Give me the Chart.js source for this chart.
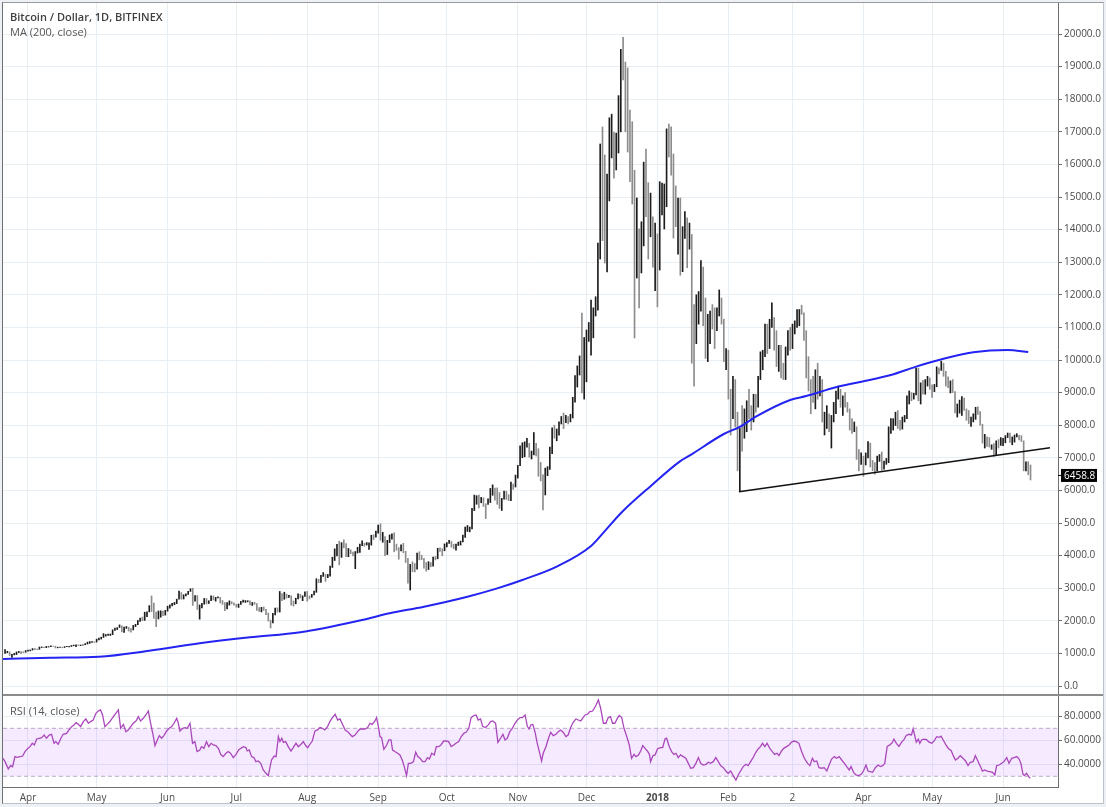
<!DOCTYPE html>
<html lang="en">
<head>
<meta charset="utf-8">
<title>Bitcoin / Dollar, 1D, BITFINEX</title>
<script src="https://cdn.jsdelivr.net/npm/chart.js@4.4.1/dist/chart.umd.min.js"></script>
<style>
  html, body { margin: 0; padding: 0; }
  body { width: 1106px; height: 807px; background: #edf1f5; position: relative; overflow: hidden; font-family: "Open Sans", sans-serif; }
  #card { position: absolute; left: 2px; top: 2px; width: 1100px; height: 800px; background: #fff; border: 1px solid #bcc3cb; border-left-color: #6f6f6f; border-top-color: #9a9a9a; }
  .pane { position: absolute; left: 0; width: 1106px; }
  #pricePane { top: 0; height: 695px; }
  #rsiPane { top: 695px; height: 112px; }
  #divider { position: absolute; left: 3px; top: 694px; width: 1100px; height: 2px; background: #8c8c8c; }
  .legend { position: absolute; left: 10px; font-size: 11px; line-height: 15px; color: #555; white-space: nowrap; }
  .legend.main { font-weight: 600; color: #3f3f3f; }
</style>
</head>
<body>
<div id="card"></div>
<div class="pane" id="pricePane"><canvas id="priceChart"></canvas></div>
<div class="pane" id="rsiPane"><canvas id="rsiChart"></canvas></div>
<div id="divider"></div>
<div class="legend main" style="top:9px">Bitcoin / Dollar, 1D, BITFINEX</div>
<div class="legend" style="top:24px">MA (200, close)</div>
<div class="legend" style="top:703px">RSI (14, close)</div>

<script>
// day 0 = 1 Apr 2017, first bar = 22 Mar 2017
const firstDay = -10;
const xMin = -10.9, xMax = 450;

const monthDays = [0, 30, 61, 91, 122, 153, 183, 214, 244, 275, 306, 334, 365, 395, 426];
const monthLabels = ['Apr', 'May', 'Jun', 'Jul', 'Aug', 'Sep', 'Oct', 'Nov', 'Dec', '2018', 'Feb', '2', 'Apr', 'May', 'Jun'];

const priceTicks = [0, 1000, 2000, 3000, 4000, 5000, 6000, 7000, 8000, 9000, 10000,
  11000, 12000, 13000, 14000, 15000, 16000, 17000, 18000, 19000, 20000];
const priceMin = -276, priceMax = 20951;

const rsiTicks = [40, 60, 80];
const rsiBands = [70, 30];
const rsiMin = 21.08, rsiMax = 97.75;

// daily highs
const highs = [
  1120, 1065, 1045, 975, 1000, 1046, 1060, 1056, 1051, 1087,
  // Apr 2017
  1099, 1106, 1149, 1150, 1134, 1196, 1198, 1193, 1214, 1210, 1229, 1228, 1221, 1190, 1192,
  1194, 1207, 1217, 1216, 1245, 1255, 1265, 1262, 1257, 1266, 1300, 1346, 1363, 1360, 1357,
  // May
  1436, 1470, 1498, 1607, 1579, 1590, 1596, 1723, 1777, 1790, 1874, 1847, 1810, 1825, 1802, 1758,
  1857, 1894, 2010, 2086, 2115, 2263, 2276, 2466, 2763, 2540, 2266, 2300, 2306, 2302, 2322,
  // Jun
  2448, 2488, 2539, 2564, 2663, 2909, 2867, 2799, 2830, 2905, 2985, 2999, 2775, 2776, 2486,
  2534, 2685, 2686, 2615, 2765, 2762, 2718, 2736, 2719, 2622, 2559, 2557, 2612, 2588, 2552,
  // Jul
  2507, 2515, 2595, 2639, 2621, 2616, 2609, 2562, 2568, 2530, 2409, 2414, 2425, 2354, 2240, 2021,
  2230, 2387, 2397, 2900, 2833, 2876, 2820, 2778, 2768, 2608, 2693, 2830, 2815, 2767, 2887,
  // Aug
  2900, 2763, 2810, 2910, 3290, 3274, 3395, 3480, 3428, 3424, 3680, 3950, 4208, 4345, 4442, 4397,
  4485, 4372, 4219, 4176, 4110, 4125, 4255, 4352, 4453, 4376, 4400, 4394, 4625, 4640, 4749,
  // Sep
  4936, 4975, 4715, 4580, 4468, 4635, 4670, 4698, 4352, 4245, 4329, 4377, 4131, 3920, 3733,
  3808, 3758, 4080, 4119, 4013, 3918, 3789, 3815, 3788, 3958, 3971, 4225, 4240, 4208, 4359,
  // Oct
  4403, 4470, 4433, 4352, 4355, 4414, 4445, 4626, 4878, 4923, 4877, 5447, 5856, 5838, 5856, 5786,
  5774, 5591, 5745, 6060, 6171, 6075, 6076, 5935, 5754, 5980, 5976, 5868, 6255, 6197, 6470,
  // Nov
  6767, 7367, 7461, 7492, 7601, 7445, 7207, 7776, 7446, 7280, 6857, 6477, 6684, 6729, 7330,
  7920, 8000, 7884, 8101, 8267, 8374, 8302, 8267, 8336, 8856, 9522, 9818, 10125, 11440, 10690,
  // Dec
  10920, 11150, 11840, 11600, 11940, 13590, 16626, 17150, 16290, 15700, 17430, 17540, 16990, 16960, 18110, 19530,
  19900, 19140, 18960, 17670, 17310, 15820, 14970, 14020, 14240, 16070, 16470, 15440, 15120, 14390, 14200,
  // Jan 2018
  13870, 15470, 15430, 15400, 17090, 17240, 17150, 16320, 15340, 14970, 14970, 14090, 14550, 14360, 14200, 13850,
  11700, 12000, 12100, 13050, 12850, 11900, 11400, 11500, 11700, 11600, 11600, 12150, 11900, 11250, 10350,
  // Feb
  10300, 9100, 9500, 9400, 8400, 7900, 8600, 8500, 8750, 9100, 8600, 8950, 8950, 9500,
  10250, 10300, 11100, 11100, 11250, 11750, 11300, 10900, 10450, 10450, 9900, 10400, 10900, 11000,
  // Mar
  11100, 11200, 11550, 11550, 11680, 11450, 10900, 10100, 9400, 9500, 9700, 9900, 9500, 9400, 8400, 8600,
  8350, 8300, 8700, 9050, 9200, 9100, 8900, 9000, 8700, 8500, 8200, 8100, 7950, 7250, 7150,
  // Apr
  7050, 7150, 7500, 7450, 6920, 6850, 7050, 7100, 7180, 6900, 6980, 7950, 8200, 8200, 8400,
  8450, 8150, 8250, 8300, 8900, 9050, 9000, 8980, 9750, 9750, 9300, 9380, 9400, 9500, 9450,
  // May
  9240, 9250, 9790, 9760, 9960, 9900, 9650, 9480, 9360, 9400, 9030, 8650, 8770, 8880, 8830, 8500,
  8450, 8250, 8350, 8550, 8560, 8420, 8030, 7720, 7640, 7620, 7400, 7440, 7520, 7560, 7620,
  // Jun
  7600, 7680, 7760, 7760, 7640, 7700, 7740, 7690, 7680, 7520, 6880, 6880, 6780
];

// daily lows
const lows = [
  1000, 1020, 936, 880, 955, 965, 1026, 995, 1024, 1036,
  1070, 1077, 1101, 1115, 1113, 1125, 1178, 1174, 1177, 1194, 1208, 1214, 1166, 1170, 1180,
  1173, 1180, 1203, 1199, 1213, 1234, 1208, 1240, 1237, 1250, 1265, 1287, 1307, 1336, 1333,
  1348, 1415, 1440, 1488, 1529, 1555, 1548, 1577, 1702, 1730, 1795, 1660, 1644, 1767, 1685, 1653,
  1720, 1822, 1880, 1982, 2005, 2012, 2125, 2274, 2282, 2070, 1820, 2056, 2110, 2154, 2174,
  2295, 2391, 2458, 2495, 2528, 2666, 2663, 2669, 2762, 2808, 2900, 2472, 2600, 2348, 2050,
  2396, 2510, 2518, 2531, 2617, 2641, 2603, 2705, 2548, 2501, 2310, 2368, 2481, 2519, 2480,
  2419, 2410, 2502, 2575, 2564, 2581, 2490, 2471, 2505, 2315, 2286, 2273, 2321, 2191, 1990, 1780,
  1933, 2183, 2264, 2269, 2619, 2660, 2695, 2718, 2480, 2450, 2520, 2670, 2703, 2617, 2746,
  2604, 2669, 2720, 2791, 2874, 3168, 3180, 3361, 3209, 3323, 3372, 3637, 3850, 3989, 3717, 3944,
  4233, 3970, 3966, 4060, 3991, 3600, 4079, 4094, 4307, 4286, 4325, 4193, 4321, 4491, 4567,
  4686, 4470, 4410, 4000, 4032, 4400, 4506, 4117, 4163, 3890, 4140, 4087, 3789, 3152, 2946,
  3508, 3499, 3585, 3869, 3877, 3614, 3521, 3573, 3657, 3677, 3868, 3903, 4130, 3995, 4148,
  4269, 4377, 4258, 4210, 4165, 4310, 4323, 4423, 4558, 4741, 4730, 4822, 5380, 5575, 5460, 5621,
  5509, 5135, 5573, 5627, 5850, 5703, 5573, 5450, 5384, 5731, 5721, 5689, 5684, 6030, 6104,
  6378, 6758, 7002, 7031, 7325, 7021, 6963, 7091, 7056, 6435, 6290, 5400, 5860, 6450, 6641,
  7130, 7600, 7523, 7694, 8038, 7895, 8075, 8038, 8100, 8221, 8710, 9170, 9540, 8988, 8800,
  9330, 10570, 10150, 10680, 11350, 11530, 13098, 13660, 12975, 12700, 14880, 16200, 15580, 15830, 16350, 17000,
  18590, 17000, 16380, 15470, 14785, 10675, 12515, 11595, 12670, 13500, 14400, 13100, 13780, 12850, 12130,
  11630, 12760, 14450, 14020, 14700, 16230, 15670, 13740, 14090, 13250, 12600, 12710, 13730, 12830, 13400, 9900,
  9200, 10500, 11100, 11500, 11050, 10050, 9950, 10500, 10950, 10350, 10900, 11350, 11100, 9950, 9700,
  8800, 7700, 8200, 7950, 6600, 5980, 7200, 7600, 7800, 8200, 7850, 8100, 8400, 8550,
  9400, 9700, 10100, 10200, 10350, 11000, 10300, 9800, 9650, 9450, 9400, 9400, 10150, 10300,
  10350, 10800, 11000, 11050, 11400, 10600, 9450, 9050, 8350, 8700, 8500, 8800, 8900, 8100, 7700, 7900,
  7800, 7300, 8100, 8350, 8800, 8550, 8300, 8550, 8400, 7850, 7750, 7800, 6950, 6600, 6800,
  6430, 6780, 7000, 6720, 6600, 6500, 6600, 6890, 6620, 6650, 6800, 6850, 7750, 7850, 7990,
  7900, 7850, 7880, 8100, 8200, 8650, 8750, 8800, 8930, 8750, 8650, 8950, 8950, 9200, 9100,
  8850, 9030, 9180, 9570, 9680, 9500, 9200, 9150, 8990, 9000, 8380, 8250, 8370, 8300, 8450, 8150,
  8050, 7960, 8100, 8180, 8330, 8000, 7450, 7300, 7350, 7330, 7260, 7050, 7080, 7300, 7380,
  7370, 7460, 7620, 7470, 7400, 7480, 7640, 7550, 7500, 6600, 6600, 6480, 6320
];

// daily closes
const closes = [
  1040, 1040, 940, 965, 966, 1045, 1047, 1039, 1037, 1079,
  1086, 1099, 1143, 1133, 1124, 1182, 1191, 1180, 1205, 1208, 1226, 1219, 1180, 1185, 1187,
  1185, 1205, 1210, 1213, 1236, 1251, 1256, 1255, 1255, 1265, 1287, 1346, 1347, 1352, 1348,
  1422, 1452, 1491, 1537, 1555, 1578, 1596, 1723, 1755, 1787, 1848, 1724, 1804, 1808, 1739, 1734,
  1839, 1888, 1987, 2085, 2052, 2124, 2272, 2446, 2305, 2202, 2038, 2156, 2256, 2175, 2286,
  2407, 2488, 2516, 2539, 2663, 2864, 2694, 2793, 2810, 2899, 2958, 2590, 2725, 2441, 2448,
  2519, 2655, 2549, 2609, 2717, 2666, 2706, 2713, 2575, 2548, 2435, 2555, 2574, 2540, 2480,
  2435, 2502, 2573, 2602, 2602, 2609, 2502, 2561, 2507, 2351, 2330, 2393, 2337, 2233, 1999, 1929,
  2229, 2318, 2273, 2817, 2668, 2810, 2731, 2754, 2576, 2530, 2671, 2810, 2726, 2757, 2875,
  2718, 2711, 2805, 2895, 3252, 3213, 3378, 3419, 3342, 3381, 3650, 3884, 4073, 4325, 4182, 4376,
  4331, 4160, 4194, 4087, 4001, 4100, 4151, 4334, 4371, 4353, 4382, 4382, 4579, 4565, 4703,
  4892, 4578, 4582, 4236, 4376, 4598, 4599, 4228, 4226, 4122, 4161, 4130, 3882, 3154, 3637,
  3625, 3582, 4065, 3924, 3905, 3631, 3630, 3792, 3682, 3926, 3892, 4200, 4174, 4163, 4338,
  4403, 4409, 4317, 4229, 4328, 4370, 4426, 4610, 4772, 4781, 4826, 5446, 5647, 5831, 5678, 5725,
  5605, 5590, 5708, 6011, 6031, 6008, 5930, 5526, 5750, 5904, 5780, 5753, 6153, 6130, 6468,
  6767, 7078, 7207, 7379, 7407, 7022, 7144, 7459, 7143, 6618, 6357, 5950, 6559, 6635, 7315,
  7871, 7708, 7790, 8036, 8200, 8071, 8253, 8038, 8253, 8790, 9330, 9818, 10058, 9888, 10233,
  10900, 10950, 11250, 11550, 11700, 13500, 16300, 16000, 14700, 15000, 16800, 17200, 16200, 16500, 17600, 19400,
  19050, 18800, 17300, 16400, 15500, 13800, 13900, 13600, 13900, 15900, 15500, 14300, 14500, 12950, 13900,
  13300, 15100, 15100, 15100, 17000, 16700, 16200, 14900, 14500, 14700, 13300, 13900, 14200, 13600, 13700, 11300,
  11150, 11350, 11600, 12850, 11500, 10800, 10850, 11300, 11200, 11150, 11400, 11750, 11200, 10100, 10200,
  9100, 8900, 9200, 8200, 6900, 7700, 7600, 8250, 8700, 8550, 8100, 8900, 8550, 9500,
  10050, 10200, 11050, 10400, 11150, 11250, 10450, 9850, 10200, 9650, 9600, 10350, 10700, 10350,
  10950, 11050, 11450, 11500, 11450, 10700, 9900, 9300, 9250, 8800, 9550, 9150, 9150, 8200, 8250, 8300,
  7900, 8200, 8600, 8900, 8900, 8700, 8900, 8600, 8450, 8150, 7800, 7950, 7100, 6850, 6950,
  6820, 7050, 7400, 6800, 6780, 6620, 6900, 7020, 6770, 6830, 6950, 7900, 7900, 8000, 8350,
  8050, 7900, 8170, 8280, 8860, 8900, 8800, 8940, 9650, 8850, 9280, 8960, 9350, 9400, 9240,
  9080, 9220, 9730, 9700, 9850, 9650, 9380, 9200, 9320, 9030, 8450, 8500, 8700, 8700, 8500, 8360,
  8080, 8240, 8240, 8520, 8400, 8020, 7520, 7580, 7470, 7350, 7360, 7120, 7460, 7400, 7500,
  7530, 7640, 7720, 7500, 7620, 7650, 7680, 7620, 7520, 6780, 6850, 6540, 6458.8
];

// MA(200)
const maDays = [-11, 10, 31, 53, 75, 97, 119, 146, 158, 173, 192, 205, 216, 231, 246, 252, 259,
  272, 285, 289, 304, 311, 318, 333, 340, 353, 362, 377, 388, 398, 413, 428, 437];
const maValues = [828, 870, 899, 1083, 1309, 1493, 1646, 2025, 2229, 2433, 2740, 2996, 3252, 3661, 4294, 4750, 5300,
  6130, 6900, 7066, 7730, 7950, 8262, 8773, 8896, 9162, 9305, 9540, 9796, 10000, 10235, 10307, 10245];

// support trendline
const trendDays = [310.6, 446.5];
const trendValues = [5960, 7310];

// RSI(14) [day, value]
const rsiPoints = [
  [-10.9, 45], [-10, 42.2], [-8.6, 36.1], [-7.6, 38.9], [-6.7, 38], [-5.7, 46.4], [-4.7, 45.8], [-3.5, 46.4],
  [-2.3, 46.9], [-1.3, 50.6], [-0.3, 52.8], [0.9, 54.7], [1.9, 57.5], [2.8, 56.1], [3.8, 61.1], [5, 61.7],
  [6, 62.2], [7.1, 64.4], [8.1, 61.7], [9.3, 64.4], [10.3, 65], [11.4, 57.5], [12.2, 58.9], [13.2, 56.7],
  [14.4, 61.7], [15.4, 65], [16.9, 65.8], [17.9, 68.6], [19.1, 71.4], [20.1, 72.8], [21, 74.7], [22, 73.3],
  [23, 71.4], [24.2, 75.6], [25.3, 77.8], [26.4, 74.2], [27.4, 75.6], [28.5, 76.9], [29.7, 82.5], [30.7, 84.4],
  [31.7, 85.3], [32.6, 81.1], [33.6, 71.4], [34.6, 73.3], [35.8, 75.6], [37.3, 79.7], [38.4, 82.5], [39.5, 85.3],
  [40.5, 70], [41.7, 73.3], [42.8, 67.2], [43.8, 68.6], [44.9, 71.4], [46, 74.2], [47.2, 76.1], [48.2, 79.7],
  [49.2, 76.1], [50.4, 78.3], [51.5, 81.1], [52.6, 84.4], [53.6, 74.2], [54.8, 63.1], [55.5, 55.6], [56.5, 60.3],
  [57.4, 63.9], [58.4, 61.7], [59.4, 63.9], [60.6, 67.8], [61.7, 70], [62.8, 71.4], [63.8, 74.2], [65, 78.3],
  [65.7, 74.2], [66.4, 67.8], [67.6, 70], [68.6, 70.6], [69.6, 70], [70.8, 74.2], [71.9, 57.5], [72.9, 58.9],
  [73.9, 50.6], [75.1, 51.9], [75.8, 54.7], [76.9, 53.3], [78, 58.9], [79, 54.7], [80, 57.5], [81, 56.1],
  [82.1, 55.6], [83.2, 53.3], [84.2, 48.3], [85.3, 46.4], [86.5, 49.2], [87.5, 50.6], [88.5, 49.2], [89.7, 45.6],
  [90.9, 48.3], [92, 51.9], [93, 53.3], [94.1, 54.7], [95.2, 53.9], [95.8, 51.1], [96.7, 51.9], [97.7, 46.4],
  [98.7, 45.6], [99.6, 42.2], [100.6, 42.8], [101.7, 40.8], [102.8, 35.3], [104, 32.5], [105, 30.6], [106.4, 43.6],
  [107.6, 46.9], [108.4, 46.4], [109.4, 63.1], [110.1, 58.9], [110.9, 61.7], [111.6, 58.3], [112.6, 58.9], [113.7, 54.7],
  [114.9, 51.1], [115.9, 53.9], [117.1, 57.5], [118.1, 54.7], [119.3, 56.7], [120.3, 58.9], [121.3, 55.6], [122.2, 53.9],
  [123.2, 56.7], [124.2, 59.4], [125.4, 67.8], [126.5, 68.6], [127.6, 70.6], [128.6, 70], [129.7, 68.6], [130.9, 71.4],
  [131.9, 75.6], [133, 78.9], [134.2, 81.7], [135.3, 76.9], [136.3, 77.8], [137.4, 73.3], [138.6, 68.6], [139.7, 67.2],
  [140.7, 65], [141.7, 63.1], [142.9, 64.4], [144, 67.2], [145.1, 69.4], [146.1, 69.4], [147.2, 69.4], [148.4, 70.6],
  [149.4, 74.2], [150.4, 73.3], [151.6, 76.1], [152.3, 78.9], [153.1, 71.4], [153.8, 63.1], [154.5, 62.2], [155.5, 52.5],
  [156.7, 56.1], [157.7, 60.3], [158.6, 60.3], [159.3, 51.9], [160.3, 50.6], [161.5, 49.2], [162.5, 47.8], [163.5, 43.6],
  [164.4, 38.1], [165.4, 30.6], [166.2, 40.8], [167.3, 40.8], [168.4, 42.2], [169.4, 50], [170.3, 46.4], [171.3, 45],
  [172.4, 42.2], [173.5, 42.2], [174.5, 45.6], [175.4, 44.4], [176.4, 49.2], [177.5, 47.8], [178.4, 54.7], [179.4, 54.7],
  [180.4, 56.1], [181.6, 59.4], [182.6, 59.4], [183.8, 58.9], [184.9, 54.7], [186, 56.1], [187, 57.5], [188.2, 58.9],
  [189.3, 63.1], [190.4, 65.8], [191.4, 66.7], [192.6, 70], [193.6, 78.9], [194.8, 80.6], [195.8, 81.1], [196.7, 76.9],
  [197.7, 77.8], [198.7, 71.4], [199.9, 70.6], [201.1, 72.8], [202.1, 75.6], [203.1, 76.1], [204.3, 74.2], [205.3, 58.3],
  [206.5, 61.7], [207.5, 65], [208.4, 60.3], [209.4, 61.7], [210.5, 67.2], [211.6, 70], [212.8, 74.2], [213.8, 76.9],
  [215, 78.9], [216, 78.9], [217.2, 81.1], [218.2, 71.4], [218.9, 69.4], [219.7, 72.8], [220.5, 73.3], [221.5, 67.2],
  [222.5, 57.5], [223.4, 50.6], [224.4, 42.8], [225.1, 49.2], [226.3, 54.7], [227.4, 61.7], [228.4, 66.7], [229.5, 63.9],
  [230.7, 65], [231.7, 67.2], [232.7, 68.6], [233.8, 66.7], [235, 63.1], [236, 64.4], [237.1, 70.6], [238.2, 75],
  [239.4, 77.8], [240.4, 76.9], [241.5, 76.1], [242.3, 78.3], [243.4, 81.1], [244.4, 81.7], [245.5, 83.9], [246.7, 84.4],
  [247.4, 86.7], [248.2, 89.4], [249.2, 93.6], [250.2, 86.7], [251.4, 74.2], [252.5, 74.2], [253.5, 78.9], [254.5, 79.7],
  [255.4, 74.2], [256.4, 74.2], [257.5, 78.3], [258.3, 80.6], [259.4, 78.9], [260.4, 70], [261.6, 63.1], [262.7, 56.1],
  [263.7, 45], [264.8, 48.3], [265.6, 46.4], [266.7, 47.8], [267.7, 51.1], [268.6, 55.6], [269.6, 53.3], [270.6, 51.1],
  [271.5, 48.3], [272, 42.2], [273, 47.2], [274, 47.8], [275, 52.8], [276.2, 53.9], [277.3, 53.9], [278.3, 61.1],
  [279, 61.7], [280.2, 54.7], [281.2, 50.6], [282.2, 48.3], [283.1, 49.2], [284.1, 45.6], [285.1, 47.8], [286.3, 46.4],
  [287.4, 45], [288.5, 40.8], [289.5, 36.7], [290.7, 37.2], [291.8, 40.8], [292.9, 45.6], [293.9, 40.8], [295, 39.4],
  [296.2, 40], [297.2, 41.7], [298.2, 40.8], [299.4, 42.2], [300.5, 45.6], [301.6, 42.2], [302.6, 38.9], [303.8, 37.2],
  [304.9, 34.4], [305.9, 32.5], [307, 34.4], [308.1, 30.6], [309.3, 26.9], [310.3, 31.1], [311.3, 34.4], [312.5, 38.1],
  [313.6, 40], [314.6, 38.9], [315.7, 42.2], [316.8, 45.6], [318, 50], [319, 52.8], [320, 54.7], [320.9, 57.5],
  [321.9, 54.7], [322.9, 57.5], [324.1, 53.3], [325.2, 50.6], [326.2, 48.3], [327.3, 49.2], [328.1, 47.2], [329.2, 51.1],
  [330.2, 53.3], [331.4, 54.7], [332.5, 56.1], [333.5, 58.3], [334.5, 59.4], [335.7, 58.9], [336.8, 57.5], [338, 50.6],
  [339.2, 45], [340.6, 40.8], [341.6, 38.9], [342.7, 45], [343.5, 42.2], [344.6, 42.8], [345.6, 37.2], [346.8, 36.7],
  [347.9, 37.2], [349, 34.4], [350, 39.4], [351.1, 44.4], [352.3, 46.4], [353.3, 45], [354.4, 46.4], [355.5, 43.6],
  [356.7, 40.8], [357.7, 38.1], [358.8, 35.3], [359.6, 38.1], [360.7, 33.3], [361.7, 31.1], [362.9, 30.6], [364, 31.7],
  [365, 34.4], [366.1, 39.4], [367, 34.4], [368, 33.9], [369, 33.3], [370.2, 37.2], [371.4, 39.4], [372.4, 38.1],
  [373.4, 38.9], [374.3, 40.8], [375.4, 55], [376.4, 56], [377.6, 58], [378.3, 61], [379.4, 57.5], [380.5, 55],
  [381.7, 58.5], [382.7, 60.5], [383.7, 64], [384.9, 65], [386, 64.5], [386.7, 69.5], [387.4, 64], [388.1, 58.5],
  [389, 61], [389.6, 57.5], [390.5, 60.5], [391.5, 61], [392.6, 60.5], [393.7, 58.5], [394.9, 57.5], [395.9, 59.5],
  [397, 63], [398.1, 62.5], [398.9, 63.5], [399.9, 60], [401.1, 56], [402.2, 53], [403.3, 51.5], [404.3, 47],
  [405.2, 43.5], [406.3, 45], [407.3, 47.2], [408.5, 45], [409.6, 42.8], [410.7, 38.9], [411.7, 41.7], [412.9, 42.2],
  [413.9, 47.2], [415, 42.8], [416.1, 38.1], [417, 34.4], [418, 35.3], [419, 34.4], [420.2, 33.9], [421.4, 33.3],
  [422.4, 31.1], [423.2, 38.9], [424.3, 39.4], [425.4, 40.8], [426.4, 42.2], [427.6, 45.6], [428.6, 40.8], [429.8, 45],
  [430.8, 45.6], [432, 46.4], [433, 44.4], [433.8, 40.8], [434.7, 31.7], [435.3, 30.6], [436.2, 32.5], [437.2, 29.7],
  [437.9, 28.3]
];

// styles
const gridColor = '#e7eef4';
const axisColor = '#6e6e6e';
const labelColor = '#4a4a4a';
const upColor = '#1c1c1c';
const downColor = '#8c8c8c';
Chart.defaults.font.family = '"Open Sans", sans-serif';
Chart.defaults.font.size = 10;

function noPad(scale) {
  scale.paddingLeft = 0; scale.paddingRight = 0;
  scale.paddingTop = 0; scale.paddingBottom = 0;
}

const barData = closes.map((c, i) => ({ x: firstDay + i, y: [lows[i], highs[i]] }));
const barColors = closes.map((c, i) => (c >= (i ? closes[i - 1] : c) ? upColor : downColor));
const maData = maDays.map((d, i) => ({ x: d, y: maValues[i] }));
const trendData = trendDays.map((d, i) => ({ x: d, y: trendValues[i] }));

// black tag with the last close on the price axis
const lastPriceTag = {
  id: 'lastPriceTag',
  afterDraw(chart) {
    const last = closes[closes.length - 1];
    const y = chart.scales.y.getPixelForValue(last);
    const x0 = chart.chartArea.right;
    const ctx = chart.ctx;
    ctx.save();
    ctx.fillStyle = '#000';
    ctx.fillRect(x0, y - 0.5, 4, 1);
    ctx.fillRect(x0 + 3, y - 6.5, 36, 13);
    ctx.fillStyle = '#fff';
    ctx.font = '10px "Open Sans", sans-serif';
    ctx.textBaseline = 'middle';
    ctx.fillText(last.toFixed(1), x0 + 6, y + 0.5);
    ctx.restore();
  }
};

new Chart(document.getElementById('priceChart'), {
  type: 'bar',
  data: {
    datasets: [
      { type: 'bar', data: barData, backgroundColor: barColors, barThickness: 1, borderWidth: 0, order: 3 },
      { type: 'line', data: maData, borderColor: '#2424f2', borderWidth: 2, pointRadius: 0,
        cubicInterpolationMode: 'monotone', order: 1 },
      { type: 'line', data: trendData, borderColor: '#111', borderWidth: 1.5, pointRadius: 0, order: 0 }
    ]
  },
  options: {
    responsive: true,
    maintainAspectRatio: false,
    animation: false,
    layout: { autoPadding: false, padding: { left: 3, top: 3, right: 0, bottom: 0 } },
    plugins: { legend: { display: false }, tooltip: { enabled: false } },
    scales: {
      x: {
        type: 'linear', min: xMin, max: xMax, offset: false,
        grid: { color: gridColor, drawTicks: false, offset: false },
        border: { display: false },
        ticks: { display: false },
        afterBuildTicks: s => { s.ticks = monthDays.map(v => ({ value: v })); },
        afterFit: s => { s.height = 0; noPad(s); }
      },
      y: {
        position: 'right', min: priceMin, max: priceMax,
        grid: { color: gridColor, tickColor: axisColor, tickLength: 4 },
        border: { display: true, color: axisColor },
        ticks: { color: labelColor, padding: 2, callback: v => v.toFixed(1) },
        afterBuildTicks: s => { s.ticks = priceTicks.map(v => ({ value: v })); },
        afterFit: s => { s.width = 48; noPad(s); }
      }
    }
  },
  plugins: [lastPriceTag]
});

// RSI pane
const rsiData = rsiPoints.map(p => ({ x: p[0], y: p[1] }));
const bandLine = 'rgba(140, 125, 150, 0.6)';

new Chart(document.getElementById('rsiChart'), {
  type: 'line',
  data: {
    datasets: [
      { data: rsiData, borderColor: '#ab47bc', borderWidth: 1.3, pointRadius: 0, order: 0 },
      { data: [{ x: xMin, y: rsiBands[0] }, { x: xMax, y: rsiBands[0] }], borderColor: bandLine,
        borderWidth: 1, borderDash: [4, 3], pointRadius: 0, order: 2 },
      { data: [{ x: xMin, y: rsiBands[1] }, { x: xMax, y: rsiBands[1] }], borderColor: bandLine,
        borderWidth: 1, borderDash: [4, 3], pointRadius: 0, fill: '-1',
        backgroundColor: 'rgba(153, 51, 255, 0.1)', order: 1 }
    ]
  },
  options: {
    responsive: true,
    maintainAspectRatio: false,
    animation: false,
    layout: { autoPadding: false, padding: { left: 3, top: 0, right: 0, bottom: 0 } },
    plugins: { legend: { display: false }, tooltip: { enabled: false } },
    scales: {
      x: {
        type: 'linear', min: xMin, max: xMax,
        grid: { color: gridColor, drawTicks: false },
        border: { display: true, color: axisColor },
        ticks: {
          color: labelColor, padding: 5, maxRotation: 0, autoSkip: false,
          font: ctx => ({ size: 10, weight: ctx.tick && ctx.tick.value === 275 ? 'bold' : 'normal' }),
          callback: v => monthLabels[monthDays.indexOf(v)]
        },
        afterBuildTicks: s => { s.ticks = monthDays.map(v => ({ value: v })); },
        afterFit: s => { s.height = 20; noPad(s); }
      },
      y: {
        position: 'right', min: rsiMin, max: rsiMax,
        grid: { color: gridColor, tickColor: axisColor, tickLength: 4 },
        border: { display: true, color: axisColor },
        ticks: { color: labelColor, padding: 2, callback: v => v.toFixed(4) },
        afterBuildTicks: s => { s.ticks = rsiTicks.map(v => ({ value: v })); },
        afterFit: s => { s.width = 48; noPad(s); }
      }
    }
  }
});
</script>
</body>
</html>
